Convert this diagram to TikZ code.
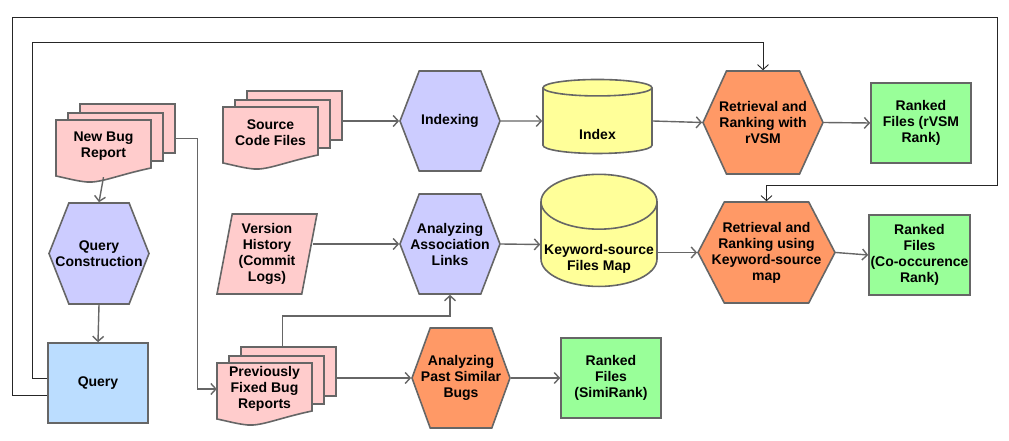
\documentclass[tikz,border=0pt]{standalone}
\usepackage{fontspec}
\setmainfont{Liberation Sans}
\usetikzlibrary{shapes.geometric,shapes.symbols,arrows.meta,positioning}

\definecolor{docpink}{HTML}{FFCCCC}
\definecolor{procblue}{HTML}{CCCCFF}
\definecolor{storeyel}{HTML}{FFFF99}
\definecolor{rankorg}{HTML}{FF9966}
\definecolor{outgreen}{HTML}{99FF99}
\definecolor{qryblue}{HTML}{BBDDFF}
\definecolor{edgegray}{HTML}{666666}

\tikzset{
	txt/.style={inner sep=0pt,align=center,font=\fontsize{14}{16}\selectfont\bfseries},
	outline/.style={draw=edgegray,line width=1.6pt},
	backdoc/.style={outline,fill=docpink,rectangle,minimum width=95pt,minimum height=49pt,anchor=north west,inner sep=0pt},
	docshape/.style={outline,fill=docpink},
	hexa/.style={outline,inner sep=0pt,signal,signal to=east and west},
	store/.style={txt,outline,fill=storeyel,cylinder,shape border rotate=90},
	box/.style={txt,outline,rectangle},
	conn/.style={draw=edgegray,line width=1.4pt,-{Straight Barb[length=5pt,width=11pt]}},
	loop/.style={draw=black!85,line width=0.9pt,-{Straight Barb[length=5pt,width=11pt]}}
}

\newcommand{\docstack}[4]{%
	\node[backdoc] (#1-c) at ({#2+23},{#3-17}) {};
	\node[backdoc,minimum height=48pt] (#1-b) at ({#2+11},{#3-8}) {};
	\filldraw[docshape] (#2,#3) -- ({#2+95},#3) -- ({#2+95},{#3+48}) .. controls ({#2+62},{#3+55}) and ({#2+45},{#3+63}) .. ({#2+31},{#3+62}) .. controls ({#2+20},{#3+61}) and ({#2+10},{#3+58}) .. (#2,{#3+56}) -- cycle;
	\node[txt,minimum width=95pt,minimum height=52pt] (#1) at ({#2+47.5},{#3+26}) {#4};
}

\begin{document}
\begin{tikzpicture}[x=1pt,y=-1pt]
	\useasboundingbox (0,0) rectangle (1009,441);

	\docstack{nbr}{56}{120}{New Bug\\Report}
	\docstack{scf}{223}{107}{Source\\Code Files}
	\docstack{pfb}{217}{363}{Previously\\Fixed Bug\\Reports}

	\node[hexa,fill=procblue,minimum width=100pt,minimum height=101pt,signal pointer angle=137,label={[txt]center:Query\\Construction}] (qc) at (99,253.5) {};
	\node[box,fill=qryblue,minimum width=100pt,minimum height=80pt] (qry) at (98,383) {Query};

	\node[hexa,fill=procblue,minimum width=100pt,minimum height=100pt,signal pointer angle=138,label={[txt]center:Indexing}] (idx) at (450,121) {};
	\node[hexa,fill=procblue,minimum width=100pt,minimum height=100pt,signal pointer angle=138,label={[txt]center:Analyzing\\Association\\Links}] (aal) at (450,244) {};
	\node[hexa,fill=rankorg,minimum width=98pt,minimum height=100pt,signal pointer angle=140,label={[txt]center:Analyzing\\Past Similar\\Bugs}] (aps) at (461,378) {};

	\node[store,minimum width=109pt,minimum height=74pt,aspect=0.45,label={[txt,yshift=-13pt]center:Index}] (ix) at (597.5,121) {\phantom{Index}\\\phantom{Index}};
	\node[store,minimum width=116pt,minimum height=87pt,aspect=0.5,label={[txt,yshift=-14pt]center:Keyword-source\\Files Map}] (ksm) at (599,244.5) {\phantom{Keyword-source}\\\phantom{Files Map}};

	\node[hexa,fill=rankorg,minimum width=120pt,minimum height=103pt,signal pointer angle=131,label={[txt]center:Retrieval and\\Ranking with\\rVSM}] (rv) at (763,122.5) {};
	\node[hexa,fill=rankorg,minimum width=137pt,minimum height=101pt,signal pointer angle=125,label={[txt]center:Retrieval and\\Ranking using\\Keyword-source\\map}] (rk) at (766.5,252.5) {};

	\node[box,fill=outgreen,minimum width=100pt,minimum height=80pt] (rfv) at (921,123) {Ranked\\Files (rVSM\\Rank)};
	\node[box,fill=outgreen,minimum width=101pt,minimum height=80pt] (rfc) at (919.5,255) {Ranked\\Files\\(Co-occurence\\Rank)};
	\node[box,fill=outgreen,minimum width=100pt,minimum height=80pt] (rfs) at (611,378) {Ranked\\Files\\(SimiRank)};

	\node[txt,outline,fill=docpink,trapezium,trapezium left angle=76,trapezium right angle=104,trapezium stretches body,minimum width=100pt,minimum height=80pt] (vh) at (267,254) {Version\\History\\(Commit\\Logs)};

	\draw[conn] ([yshift=-5pt]nbr.south) -- (qc.north);
	\draw[conn] (qc.south) -- (qry.north);
	\draw[conn] ([yshift=-10pt]nbr-c.east) -- ++(22,0) |- (pfb.west);
	\draw[conn] (scf-c.east |- idx.west) -- (idx.west);
	\draw[conn] (idx.east) -- (ix.west);
	\draw[conn] (ix.east) -- (rv.west);
	\draw[conn] (rv.east) -- (rfv.west);
	\draw[conn] ([xshift=3pt]vh.east |- aal.west) -- (aal.west);
	\draw[conn] (aal.east) -- (ksm.west);
	\draw[conn] (ksm.east |- rk.west) -- (rk.west);
	\draw[conn] (rk.east) -- (rfc.west);
	\draw[conn] ([xshift=-6pt]pfb-c.north) -- ++(0,-30) -| (aal.south);
	\draw[conn] (pfb-c.east |- aps.west) -- (aps.west);
	\draw[conn] (aps.east) -- (rfs.west);

	\coordinate (inA) at (32,42);
	\coordinate (outA) at (12,17);
	\coordinate (outB) at (997,185);
	\draw[loop] ([yshift=5pt]qry.west) -| (inA) -| (rv.north);
	\draw[loop] ([yshift=-12pt]qry.west) -| (outA) -| (outB) -| (rk.north);
\end{tikzpicture}
\end{document}
